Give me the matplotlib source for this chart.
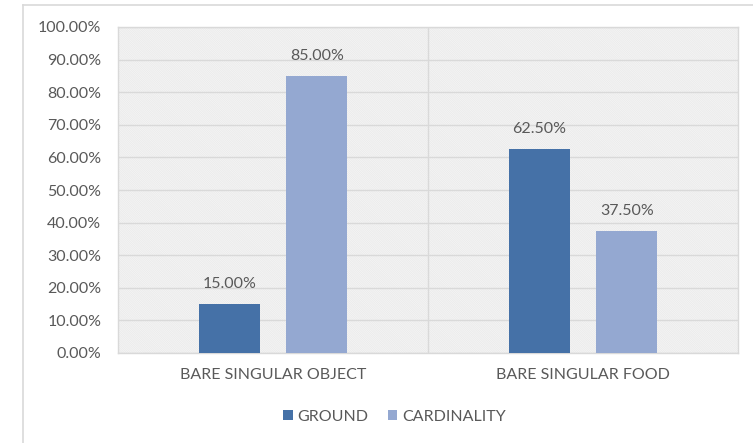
import matplotlib
matplotlib.use("Agg")
import matplotlib.pyplot as plt
from matplotlib.patches import Rectangle
from matplotlib.lines import Line2D
from matplotlib.ticker import FuncFormatter, MultipleLocator
import numpy as np

# Chart data
categories = ["BARE SINGULAR OBJECT", "BARE SINGULAR FOOD"]
ground = [15.00, 62.50]
cardinality = [85.00, 37.50]
series_names = ["GROUND", "CARDINALITY"]

# Styling
text_color = "#595959"
grid_color = "#d9d9d9"
ground_color = "#4571a7"
card_color = "#94a8d1"
fsize = 11.5

plt.rcParams["font.family"] = ["Lato", "DejaVu Sans"]
plt.rcParams["hatch.linewidth"] = 0.5

W, H = 753, 443
fig = plt.figure(figsize=(W / 100, H / 100), dpi=100)

# Plot area in pixel coordinates
left, right, top, bottom = 118, 738, 27, 353
ax = fig.add_axes([left / W, 1 - bottom / H, (right - left) / W, (bottom - top) / H])

# Hatched light gray background
ax.patch.set_visible(False)
bg = Rectangle((0, 0), 1, 1, transform=ax.transAxes, facecolor="#f7f7f7",
               edgecolor="#e9e9e9", hatch="\\" * 18, linewidth=0, zorder=0)
ax.add_patch(bg)

x = np.arange(len(categories))
bar_w = 0.197
offset = 0.141

b1 = ax.bar(x - offset, ground, bar_w, color=ground_color, label=series_names[0], zorder=3)
b2 = ax.bar(x + offset, cardinality, bar_w, color=card_color, label=series_names[1], zorder=3)

# Data labels above the bars
for bars, vals in [(b1, ground), (b2, cardinality)]:
    for rect, v in zip(bars, vals):
        ax.annotate(f"{v:.2f}%", (rect.get_x() + rect.get_width() / 2, v),
                    xytext=(0, 14.5), textcoords="offset points",
                    ha="center", va="center", fontsize=fsize, color=text_color, zorder=4)

ax.set_xlim(-0.5, len(categories) - 0.5)
ax.set_ylim(0, 100)
ax.yaxis.set_major_locator(MultipleLocator(10))
ax.yaxis.set_major_formatter(FuncFormatter(lambda v, p: f"{v:.2f}%"))
ax.grid(axis="y", color=grid_color, linewidth=1, zorder=1)
ax.set_axisbelow(True)

# Vertical separator between categories
for xs in np.arange(0.5, len(categories) - 0.5):
    ax.axvline(xs, color=grid_color, linewidth=1, zorder=1)

ax.set_xticks(x)
ax.set_xticklabels(categories)
ax.tick_params(axis="both", length=0, labelsize=fsize, labelcolor=text_color)
ax.tick_params(axis="y", pad=12)
ax.tick_params(axis="x", pad=11)

for spine in ax.spines.values():
    spine.set_color(grid_color)
    spine.set_linewidth(1)

# Legend below
fig.legend(loc="center", bbox_to_anchor=(0.524, 1 - 417 / H), ncol=2, frameon=False,
           handlelength=0.6, handleheight=0.6, handletextpad=0.3, columnspacing=1.2,
           fontsize=fsize, labelcolor=text_color)

# Chart frame edges visible in the crop
fx = 23 / W
fy = 1 - 5 / H
fig.add_artist(Line2D([fx, fx], [0, fy], color=grid_color, linewidth=1.2, transform=fig.transFigure))
fig.add_artist(Line2D([fx, 1], [fy, fy], color=grid_color, linewidth=1.2, transform=fig.transFigure))

fig.savefig("out.png", dpi=100)
